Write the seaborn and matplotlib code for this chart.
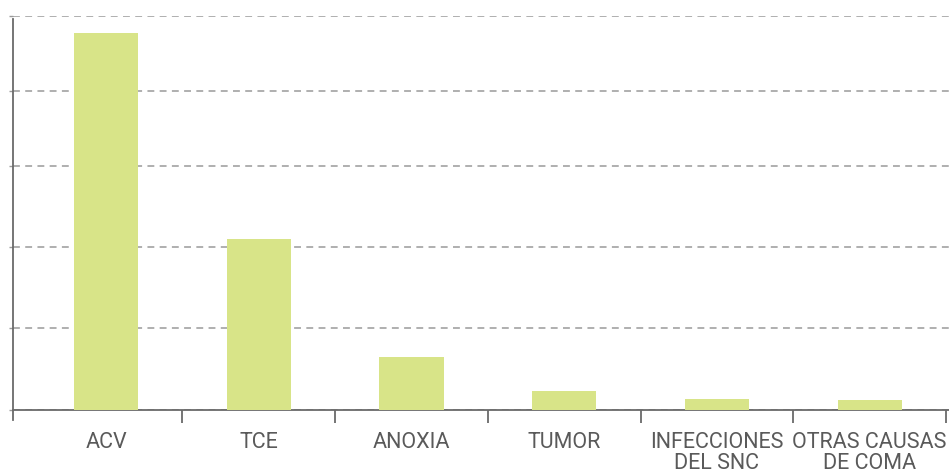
import matplotlib
matplotlib.use('Agg')
import matplotlib.pyplot as plt
import seaborn as sns
import pandas as pd

# categories and values (approx. % of cases)
categorias = ['ACV', 'TCE', 'ANOXIA', 'TUMOR', 'INFECCIONES\nDEL SNC', 'OTRAS CAUSAS\nDE COMA']
valores    = [57.4, 26.0, 8.0, 2.9, 1.7, 1.5]
# gridlines in the original are not quite evenly spaced
y_ticks    = [0, 12.5, 24.8, 37.2, 48.6, 60]

df = pd.DataFrame({'causa': categorias, 'valor': valores})

sns.set_theme(style='white')
plt.rcParams['font.family'] = ['Roboto', 'DejaVu Sans']

BAR   = '#d8e488'
GRID  = '#9a9a9a'
AXIS  = '#6a6a6a'
TEXT  = '#5a5a5a'

fig = plt.figure(figsize=(9.49, 4.72), dpi=100)
ax = fig.add_axes([13 / 949, 62 / 472, 936 / 949, 394 / 472])

sns.barplot(data=df, x='causa', y='valor', color=BAR, width=0.42,
            saturation=1, linewidth=0, ax=ax, zorder=3)

ax.set_xlim(-0.61, 5.52)
ax.set_ylim(0, 60)
ax.set_yticks(y_ticks)
ax.set_yticklabels([])
ax.yaxis.grid(True, color=GRID, linestyle=(0, (4.5, 3.5)), linewidth=1.1, zorder=0)

for s in ['top', 'right']:
    ax.spines[s].set_visible(False)
ax.spines['left'].set_color(AXIS)
ax.spines['left'].set_linewidth(1.3)
ax.spines['left'].set_bounds(-1.52, 59.5)
ax.spines['bottom'].set_color(AXIS)
ax.spines['bottom'].set_linewidth(1.3)

ax.tick_params(axis='y', left=True, length=3, width=1, color=GRID, pad=0)
ax.set_xticks(range(len(categorias)))
ax.set_xticklabels(categorias, color=TEXT, fontsize=15.5, linespacing=1.0)
ax.set_xticks([i + 0.5 for i in range(len(categorias))], minor=True)
ax.tick_params(axis='x', which='major', bottom=False, pad=10)
ax.tick_params(axis='x', which='minor', bottom=True, length=9, width=1.3, color=AXIS)

ax.set_xlabel('')
ax.set_ylabel('')

fig.savefig('out.png', dpi=100)
